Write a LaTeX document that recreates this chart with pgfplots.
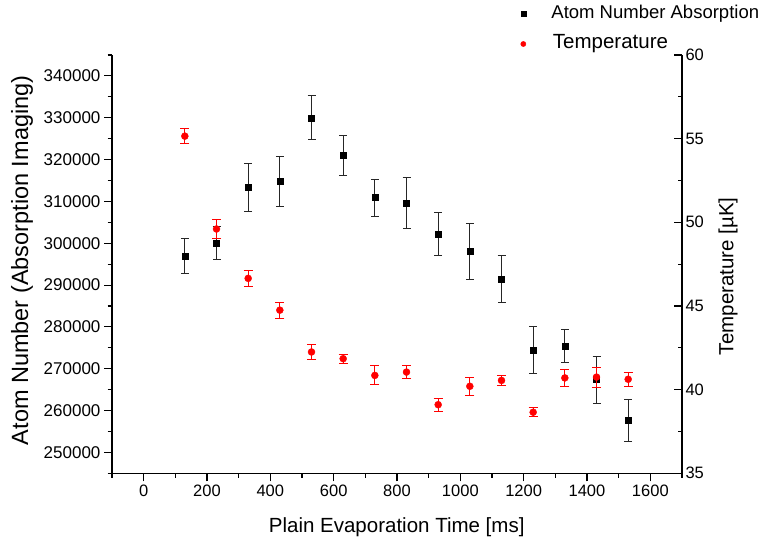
\documentclass[border=0pt]{standalone}
\usepackage{fontspec}
\setmainfont{Liberation Sans}
\usepackage{pgfplots}
\pgfplotsset{compat=1.18}
\usepackage{pgfplotstable}

\pgfplotstableread{
x y e
130 297000 4200
230 300000 4000
330 313300 5800
430 314800 6000
530 330000 5200
630 321000 4800
730 310900 4400
830 309600 6100
930 302200 5200
1030 298000 6600
1130 291500 5600
1230 274500 5600
1330 275400 3900
1430 267400 5600
1530 257700 5000
}\atomdata

\pgfplotstableread{
x y e
130 55.15 0.43
230 49.60 0.54
330 46.65 0.49
430 44.75 0.48
530 42.25 0.45
630 41.85 0.26
730 40.85 0.57
830 41.05 0.40
930 39.10 0.40
1030 40.20 0.55
1130 40.55 0.28
1230 38.65 0.26
1330 40.70 0.49
1430 40.75 0.60
1530 40.62 0.43
}\tempdata

\newcommand\tfont{\fontsize{16.5}{19}\selectfont}
\begin{document}
\begin{tikzpicture}
\useasboundingbox (0pt,0pt) rectangle (763pt,545pt);
\pgfplotsset{
  common/.style={
    at={(112pt,71.7pt)}, anchor=south west,
    scale only axis, width=570pt, height=418.3pt,
    xmin=-100, xmax=1700,
    /pgf/number format/assume math mode=true,
    /pgf/number format/1000 sep={},
    tick label style={font=\tfont},
    axis line style={line width=1.1pt},
    major tick length=8pt, minor tick length=4.5pt,
    every tick/.style={black, line width=1.1pt},
    legend image code/.code={\draw[##1] plot coordinates {(0pt,0pt)};},
  }
}
\begin{axis}[common,
  axis x line*=bottom, axis y line*=left,
  ymin=245000, ymax=345000,
  xtick={0,200,400,600,800,1000,1200,1400,1600},
  minor xtick={-100,100,300,500,700,900,1100,1300,1500,1700},
  ytick={250000,260000,270000,280000,290000,300000,310000,320000,330000,340000},
  minor ytick={245000,255000,265000,275000,285000,295000,305000,315000,325000,335000,345000},
  tick align=outside,
  scaled y ticks=false,
  xticklabel={\tfont\pgfmathprintnumber[fixed,1000 sep={}]{\tick}},
  yticklabel={\fontsize{17}{19}\selectfont\pgfmathprintnumber[fixed,1000 sep={}]{\tick}},
  xlabel={Plain Evaporation Time [ms]},
  ylabel={Atom Number (Absorption Imaging)},
  every axis x label/.style={at={(axis description cs:0.4995,-0.128)}, anchor=center, font=\fontsize{20.5}{24}\selectfont},
  every axis y label/.style={at={(axis description cs:-0.158,0.509)}, rotate=90, anchor=center, font=\fontsize{23.5}{27}\selectfont},
]
\addplot[only marks, mark=square*, mark size=3pt, black,
  error bars/.cd, y dir=both, y explicit,
  error bar style={line width=1pt, black!85},
  error mark options={rotate=90, mark size=4pt, line width=1pt, black!85}]
  table[x=x, y=y, y error=e]{\atomdata};
\end{axis}
\begin{axis}[common,
  axis x line=none, axis y line*=right,
  ymin=35, ymax=60,
  ytick={35,40,45,50,55,60},
  minor ytick={37.5,42.5,47.5,52.5,57.5},
  tick align=inside,
  yticklabel={\tfont\pgfmathprintnumber[fixed]{\tick}},
  ylabel={Temperature [µK]},
  every axis y label/.style={at={(axis description cs:1.0807,0.471)}, rotate=90, anchor=center, font=\fontsize{20.5}{24}\selectfont},
  legend style={at={(axis description cs:0.7167,1.12)}, anchor=north west,
    draw=none, fill=none, inner sep=0pt, column sep=0pt, row sep=12pt,
    nodes={inner sep=0pt, text height=14pt, text depth=4pt}},
  legend cell align=left,
]
\addlegendimage{only marks, mark=square*, mark size=2.5pt, black}
\addlegendentry{\hspace{25.5pt}\fontsize{18.5}{20}\selectfont Atom Number Absorption}
\addplot[only marks, mark=*, mark size=3.5pt, red, forget plot,
  error bars/.cd, y dir=both, y explicit,
  error bar style={line width=1pt, red},
  error mark options={rotate=90, mark size=4.5pt, line width=1pt, red}]
  table[x=x, y=y, y error=e]{\tempdata};
\addlegendimage{only marks, mark=*, mark size=2.6pt, red}
\addlegendentry{\hspace{27pt}\fontsize{20.5}{24}\selectfont Temperature}
\end{axis}
\end{tikzpicture}
\end{document}
